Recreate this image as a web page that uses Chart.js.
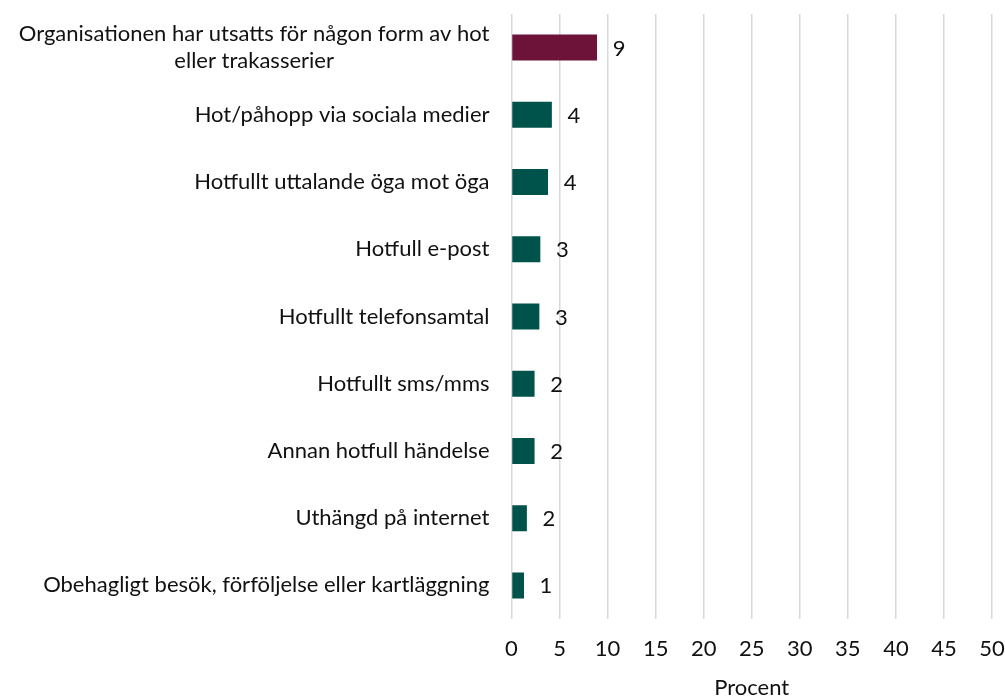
<!DOCTYPE html>
<html>
<head>
<meta charset="utf-8">
<script src="https://cdn.jsdelivr.net/npm/chart.js@4"></script>
<style>
    html, body { margin: 0; padding: 0; background: #fff; }
    #wrap { width: 1005px; height: 697px; }
</style>
</head>
<body>
<div id="wrap"><canvas id="threatChart"></canvas></div>
<script>
// Data
const categories = [
    ['Organisationen har utsatts för någon form av hot', 'eller trakasserier'],
    'Hot/påhopp via sociala medier',
    'Hotfullt uttalande öga mot öga',
    'Hotfull e-post',
    'Hotfullt telefonsamtal',
    'Hotfullt sms/mms',
    'Annan hotfull händelse',
    'Uthängd på internet',
    'Obehagligt besök, förföljelse eller kartläggning'
];
const percentValues = [8.9, 4.2, 3.8, 3.0, 2.9, 2.4, 2.4, 1.6, 1.3];
const barColors = ['#6d1239', '#00534a', '#00534a', '#00534a', '#00534a', '#00534a', '#00534a', '#00534a', '#00534a'];
const xTicks = [0, 5, 10, 15, 20, 25, 30, 35, 40, 45, 50];

const FONT = "Lato, 'Open Sans', sans-serif";
const FONT_SIZE = 22;
const TEXT_COLOR = '#111';
const Y_PAD = 22;

// Draws the rounded value just right of each bar
const valueLabels = {
    id: 'valueLabels',
    afterDatasetsDraw(chart) {
        const ctx = chart.ctx;
        const meta = chart.getDatasetMeta(0);
        ctx.save();
        ctx.font = FONT_SIZE + 'px ' + FONT;
        ctx.fillStyle = TEXT_COLOR;
        ctx.textAlign = 'center';
        ctx.textBaseline = 'middle';
        meta.data.forEach((bar, i) => {
            ctx.fillText(String(Math.round(percentValues[i])), bar.x + 22, bar.y + 1);
        });
        ctx.restore();
    }
};

// Multi-line category labels are centred line by line (Chart.js right-aligns them)
const centredLabels = {
    id: 'centredLabels',
    afterDraw(chart) {
        const ctx = chart.ctx;
        const yScale = chart.scales.y;
        const right = chart.chartArea.left - Y_PAD;
        const lineH = FONT_SIZE * 1.25;
        ctx.save();
        ctx.font = FONT_SIZE + 'px ' + FONT;
        ctx.fillStyle = TEXT_COLOR;
        ctx.textAlign = 'center';
        ctx.textBaseline = 'middle';
        categories.forEach((label, i) => {
            if (!Array.isArray(label)) return;
            const widest = Math.max(...label.map(l => ctx.measureText(l).width));
            const cx = right - widest / 2;
            const cy = yScale.getPixelForTick(i);
            label.forEach((line, j) => {
                ctx.fillText(line, cx, cy + (j - (label.length - 1) / 2) * lineH);
            });
        });
        ctx.restore();
    }
};

new Chart(document.getElementById('threatChart').getContext('2d'), {
    type: 'bar',
    data: {
        labels: categories,
        datasets: [{
            data: percentValues,
            backgroundColor: barColors,
            borderWidth: 0,
            categoryPercentage: 1,
            barPercentage: 0.387
        }]
    },
    options: {
        indexAxis: 'y',
        responsive: true,
        maintainAspectRatio: false,
        animation: false,
        layout: { padding: { top: 14, right: 13, left: 0, bottom: 0 } },
        plugins: {
            legend: { display: false },
            tooltip: { enabled: false }
        },
        scales: {
            x: {
                min: 0,
                max: 50,
                afterBuildTicks: axis => { axis.ticks = xTicks.map(v => ({ value: v })); },
                afterFit: axis => {
                    axis.height = 78;
                    axis.paddingLeft = 0;
                    axis.paddingRight = 0;
                },
                grid: { color: '#d9d9d9', lineWidth: 1.5, drawTicks: false },
                border: { display: false },
                ticks: {
                    padding: 17,
                    maxRotation: 0,
                    color: TEXT_COLOR,
                    font: { family: FONT, size: FONT_SIZE }
                },
                title: {
                    display: true,
                    text: 'Procent',
                    color: TEXT_COLOR,
                    padding: { top: 0, bottom: -4 },
                    font: { family: FONT, size: FONT_SIZE }
                }
            },
            y: {
                afterFit: axis => {
                    axis.width = 511.5;
                    axis.paddingTop = 0;
                    axis.paddingBottom = 0;
                },
                grid: { display: false, drawTicks: false },
                border: { display: false },
                ticks: {
                    padding: Y_PAD,
                    color: ctx => Array.isArray(categories[ctx.index]) ? 'rgba(0,0,0,0)' : TEXT_COLOR,
                    font: { family: FONT, size: FONT_SIZE, lineHeight: 1.25 }
                }
            }
        }
    },
    plugins: [valueLabels, centredLabels]
});
</script>
</body>
</html>
